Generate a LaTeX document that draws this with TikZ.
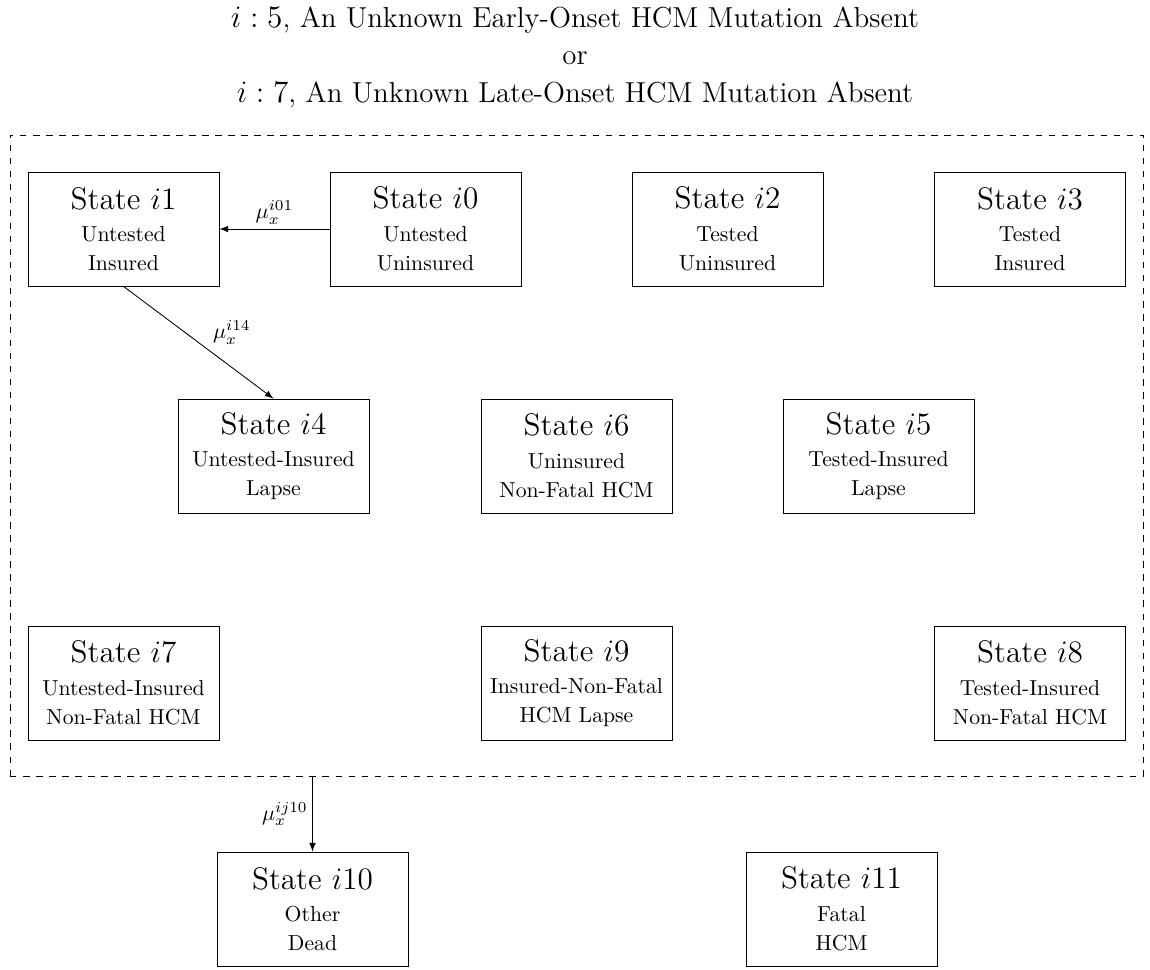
\documentclass[tikz,border=0pt]{standalone}
\usetikzlibrary{positioning}
\newcommand{\statetext}[3]{{\Large State $i#1$}\\[3pt]#2\\[1.4pt]#3}
\begin{document}
\begin{tikzpicture}[x={(0.4608pt,0)}, y={(0,-0.4608pt)},
  statebox/.style={draw, line width=0.4pt, minimum width=88pt, minimum height=52.5pt,
    inner sep=0pt, align=center, font=\normalsize},
  titletext/.style={font=\fontsize{13.3}{16}\selectfont, inner sep=0pt},
  arr/.style={-latex, line width=0.4pt},
  rate/.style={font=\normalsize, inner sep=2pt}]
\useasboundingbox (0,0) rectangle (1150,969);

% heading
\node[titletext] (t1) at (575,20) {$i:5$, An Unknown Early-Onset HCM Mutation Absent};
\node[titletext] (t2) at (575,58) {or};
\node[titletext] (t3) at (575,95) {$i:7$, An Unknown Late-Onset HCM Mutation Absent};

% living states
\node[draw, dashed, line width=0.4pt, minimum width=522.1pt, minimum height=295.4pt, inner sep=0pt]
  (frame) at (576.5,455.5) {};

\node[statebox] (i1) at (123.5,229) {\statetext{1}{Untested}{Insured}};
\node[statebox] (i0) at (425.5,229) {\statetext{0}{Untested}{Uninsured}};
\node[statebox] (i2) at (727.5,229) {\statetext{2}{Tested}{Uninsured}};
\node[statebox] (i3) at (1030,229) {\statetext{3}{Tested}{Insured}};

\node[statebox] (i4) at (273.5,456) {\statetext{4}{Untested-Insured}{Lapse}};
\node[statebox] (i6) at (576.5,456) {\statetext{6}{Uninsured}{Non-Fatal HCM}};
\node[statebox] (i5) at (878.5,456) {\statetext{5}{Tested-Insured}{Lapse}};

\node[statebox] (i7) at (123.5,683) {\statetext{7}{Untested-Insured}{Non-Fatal HCM}};
\node[statebox] (i9) at (576.5,683) {\statetext{9}{Insured-Non-Fatal}{HCM Lapse}};
\node[statebox] (i8) at (1030,683) {\statetext{8}{Tested-Insured}{Non-Fatal HCM}};

% dead states
\node[statebox] (i10) at (312.5,909) {\statetext{10}{Other}{Dead}};
\node[statebox] (i11) at (841.5,909) {\statetext{11}{Fatal}{HCM}};

% transitions
\draw[arr] (i0) -- (i1) node[midway, above, rate] {$\mu_x^{i01}$};
\draw[arr] (i1.south) -- (i4.north) node[pos=0.45, right=8pt, yshift=2pt, rate] {$\mu_x^{i14}$};
\coordinate (exit) at (i10.north |- frame.south);
\draw[arr] (exit) -- (i10.north) node[midway, left, rate] {$\mu_x^{ij10}$};
\end{tikzpicture}
\end{document}
